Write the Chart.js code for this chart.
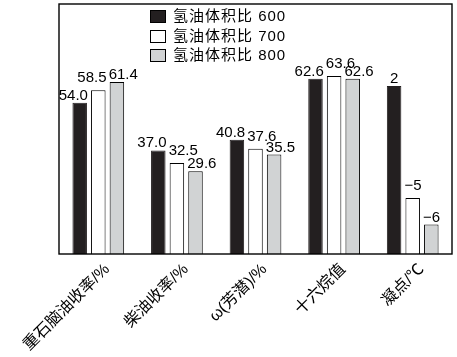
<!DOCTYPE html>
<html><head><meta charset="utf-8">
<script src="https://cdn.jsdelivr.net/npm/chart.js@4/dist/chart.umd.min.js"></script>
<style>html,body{margin:0;padding:0;background:#fff}canvas{display:block}</style>
</head><body>
<canvas id="c" width="457" height="357"></canvas>
<script>
const categories = ['重石脑油收率/%', '柴油收率/%', 'ω(芳潜)/%', '十六烷值', '凝点/℃'];
const seriesNames = ['氢油体积比 600', '氢油体积比 700', '氢油体积比 800'];
// bar heights as drawn in the picture (凝点 bars are drawn schematically)
const heights600 = [54.0, 37.0, 40.8, 62.6, 60.0];
const heights700 = [58.5, 32.5, 37.6, 63.6, 20.0];
const heights800 = [61.4, 29.6, 35.5, 62.6, 10.5];
// value labels printed above the bars
const labels600 = ['54.0', '37.0', '40.8', '62.6', '2'];
const labels700 = ['58.5', '32.5', '37.6', '63.6', '\u22125'];
const labels800 = ['61.4', '29.6', '35.5', '62.6', '\u22126'];

const BLACK = '#231f20', GRAY = '#d1d3d4';
const FONT_NUM = '15px "Liberation Sans", Arial, sans-serif';
const FONT_CJK = '"Liberation Sans", "Noto Sans CJK SC", sans-serif';

const valueLabelPlugin = {
  id: 'valueLabels',
  afterDatasetsDraw(chart) {
    const ctx = chart.ctx;
    const all = [labels600, labels700, labels800];
    const gaps = [3, 8, 3];
    ctx.save();
    ctx.font = FONT_NUM;
    ctx.fillStyle = '#000';
    ctx.textBaseline = 'alphabetic';
    chart.data.datasets.forEach((ds, di) => {
      const meta = chart.getDatasetMeta(di);
      meta.data.forEach((bar, i) => {
        const p = bar.getProps(['x', 'y', 'width'], true);
        let align = ['right', 'left', 'left'][di];
        if (di === 1 && i === 0) align = 'right';
        if (di === 0 && i === 4) align = 'center';
        ctx.textAlign = align;
        let x = p.x;
        if (align === 'right') x = p.x + p.width / 2 + 1;
        if (align === 'left') x = p.x - p.width / 2 - 1;
        ctx.fillText(all[di][i], x, p.y - gaps[di]);
      });
    });
    ctx.restore();
  }
};

const framePlugin = {
  id: 'frame',
  afterDraw(chart) {
    const a = chart.chartArea, ctx = chart.ctx;
    ctx.save();
    ctx.strokeStyle = '#000';
    ctx.lineWidth = 1.4;
    ctx.strokeRect(a.left, a.top, a.right - a.left, a.bottom - a.top);
    // legend
    ctx.font = '15px ' + FONT_CJK;
    ctx.letterSpacing = '1px';
    ctx.textBaseline = 'middle';
    ctx.textAlign = 'left';
    const ys = [10, 30, 49];
    chart.data.datasets.forEach((ds, di) => {
      ctx.fillStyle = ds.backgroundColor;
      ctx.fillRect(150.5, ys[di] + 0.5, 15, 12);
      ctx.lineWidth = 1;
      ctx.strokeStyle = '#000';
      ctx.strokeRect(150.5, ys[di] + 0.5, 15, 12);
      ctx.fillStyle = '#000';
      ctx.fillText(ds.label, 173, ys[di] + 7);
    });
    ctx.restore();
  }
};

new Chart(document.getElementById('c'), {
  type: 'bar',
  data: {
    labels: categories,
    datasets: [
      { label: seriesNames[0], data: heights600, backgroundColor: BLACK, borderColor: BLACK, borderWidth: 1 },
      { label: seriesNames[1], data: heights700, backgroundColor: '#ffffff', borderColor: '#000', borderWidth: 1 },
      { label: seriesNames[2], data: heights800, backgroundColor: GRAY, borderColor: '#000', borderWidth: 1 }
    ]
  },
  options: {
    responsive: false,
    animation: false,
    devicePixelRatio: 1,
    layout: { padding: { left: 59, right: 5, top: 4, bottom: 0 } },
    datasets: { bar: { categoryPercentage: 0.71, barPercentage: 0.78 } },
    plugins: { legend: { display: false }, tooltip: { enabled: false } },
    scales: {
      x: {
        grid: { display: false, drawTicks: false },
        border: { display: false },
        ticks: {
          color: '#000',
          font: { size: 16, family: FONT_CJK },
          minRotation: 45, maxRotation: 45,
          padding: 6,
          labelOffset: 9,
          autoSkip: false
        },
        afterFit(s) { s.height = 103; }
      },
      y: { display: false, min: 0, max: 89.3 }
    }
  },
  plugins: [valueLabelPlugin, framePlugin]
});
</script>
</body></html>
